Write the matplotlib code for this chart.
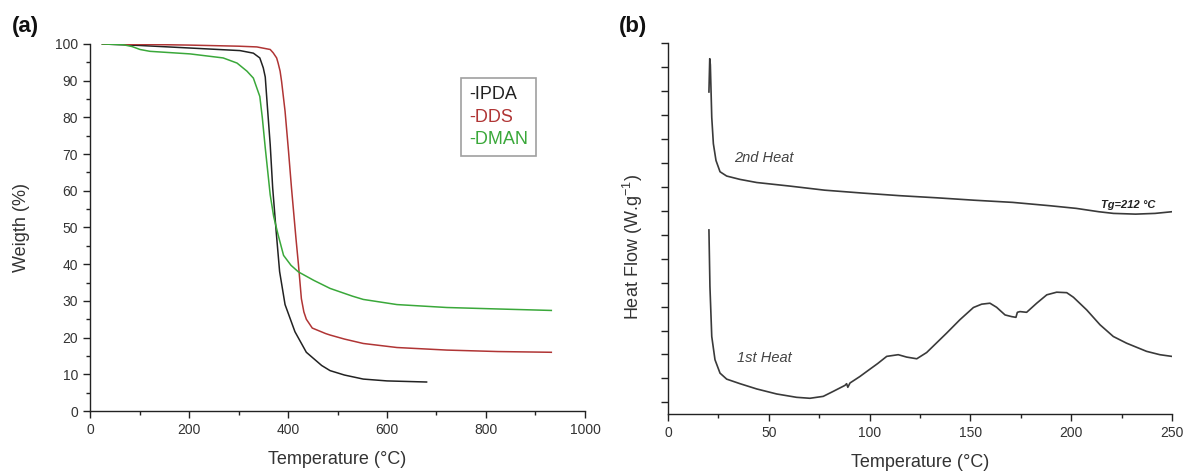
import matplotlib
matplotlib.use("Agg")
import matplotlib.pyplot as plt
from matplotlib.ticker import MultipleLocator, NullFormatter

# ---------------- Panel (a) TGA data ----------------
ipda_T = [25, 100, 202, 303, 330, 343, 350, 354, 358, 364, 369, 376, 383, 394, 414, 437, 468, 485, 514, 552, 600, 680]
ipda_W = [100, 99.6, 98.9, 98.2, 97.5, 96.2, 93.5, 91.0, 83.5, 72.6, 60.8, 49, 38, 29, 21.6, 16, 12.4, 11.0, 9.8, 8.7, 8.2, 7.9]

dds_T = [25, 100, 200, 300, 337, 364, 370, 377, 380, 384, 387, 394, 401, 407, 416, 421, 427, 432, 437, 449, 476, 485, 514, 552, 620, 721, 824, 932]
dds_W = [100, 99.9, 99.7, 99.4, 99.2, 98.5, 97.6, 96.2, 94.8, 92.6, 89.8, 81.7, 70.8, 60.8, 47.1, 40, 30.6, 27, 25.0, 22.6, 21.1, 20.7, 19.6, 18.4, 17.3, 16.6, 16.2, 16.0]

dman_T = [25, 67, 85, 101, 121, 202, 269, 297, 317, 330, 343, 348, 354, 364, 371, 380, 391, 406, 421, 452, 485, 530, 552, 620, 721, 824, 932]
dman_W = [100, 99.8, 99.3, 98.5, 98.0, 97.3, 96.2, 94.8, 92.6, 90.7, 85.7, 80, 71.7, 58.9, 53, 48, 42.4, 39.7, 37.9, 35.6, 33.4, 31.3, 30.4, 29.0, 28.2, 27.8, 27.4]

legend_labels = ["-IPDA", "-DDS", "-DMAN"]

# ---------------- Panel (b) DSC data ----------------
heat2_T = [20.3, 20.7, 21.0, 21.7, 22.5, 23.8, 25.8, 29.1, 35.7, 44, 60.5, 77.7, 96.3, 115, 133.6, 152, 171, 189.5, 202.5, 213.7, 221, 232, 241.6, 250]
heat2_H = [12.96, 14.35, 14.1, 11.9, 10.8, 10.1, 9.63, 9.45, 9.31, 9.18, 9.03, 8.86, 8.74, 8.63, 8.54, 8.44, 8.35, 8.21, 8.10, 7.96, 7.89, 7.86, 7.89, 7.96]

heat1_T = [20.3, 20.8, 21.7, 23.3, 25.8, 29.1, 35.7, 44, 53.9, 63.8, 70.4, 77, 82, 87.8, 88.6, 89.2, 90.3, 95.2, 98.6, 104, 108.5, 114.2, 118.4, 123.4,
           128.3, 138.2, 144.8, 151.5, 155.6, 159.7, 163, 167.2, 170.5, 172.6, 173.3, 174.6, 177.9, 182.9, 187.9, 192.8, 197.8, 201.1,
           207.7, 214.3, 220.9, 227.5, 237.4, 244, 249.9]
heat1_H = [7.2, 4.83, 2.75, 1.78, 1.22, 0.97, 0.78, 0.56, 0.35, 0.21, 0.17, 0.25, 0.46, 0.71, 0.78, 0.63, 0.81, 1.08, 1.29, 1.62, 1.92, 1.99, 1.89, 1.82,
           2.08, 2.89, 3.45, 3.96, 4.10, 4.14, 3.97, 3.65, 3.58, 3.55, 3.76, 3.79, 3.76, 4.14, 4.49, 4.60, 4.58, 4.39,
           3.86, 3.24, 2.75, 2.47, 2.13, 1.99, 1.92]

plt.rcParams['font.family'] = ['Liberation Sans', 'DejaVu Sans']
text_col = '#333333'

fig = plt.figure(figsize=(11.88, 4.74), dpi=100)

def style(ax):
    for s in ['top', 'right']:
        ax.spines[s].set_visible(False)
    for s in ['left', 'bottom']:
        ax.spines[s].set_color('#222222')
        ax.spines[s].set_linewidth(1.0)
    ax.tick_params(which='major', direction='out', length=5, width=1.0, colors='#222222', labelcolor=text_col, labelsize=10)
    ax.tick_params(which='minor', direction='out', length=3, width=1.0, colors='#222222')

# Panel (a)
axa = fig.add_axes([0.0758, 0.1329, 0.4166, 0.7743])
axa.plot(ipda_T, ipda_W, color='#222222', lw=1.1, solid_joinstyle='round')
axa.plot(dds_T, dds_W, color='#b03535', lw=1.1, solid_joinstyle='round')
axa.plot(dman_T, dman_W, color='#3aa83a', lw=1.1, solid_joinstyle='round')
axa.set_xlim(0, 1000)
axa.set_ylim(0, 100)
axa.xaxis.set_major_locator(MultipleLocator(200))
axa.xaxis.set_minor_locator(MultipleLocator(100))
axa.yaxis.set_major_locator(MultipleLocator(10))
axa.yaxis.set_minor_locator(MultipleLocator(5))
style(axa)
axa.set_xlabel('Temperature (°C)', fontsize=13, color=text_col, labelpad=10)
axa.set_ylabel('Weigth (%)', fontsize=13, color=text_col, labelpad=18)
leg_colors = ['#222222', '#b03535', '#3aa83a']
handles = [plt.Line2D([], [], color=c, lw=0) for c in leg_colors]
leg = axa.legend(handles, legend_labels, loc='upper left', bbox_to_anchor=(0.7495, 0.907),
                 borderaxespad=0, handlelength=0, handletextpad=0, fontsize=13, frameon=True,
                 fancybox=False, borderpad=0.45, labelspacing=0.3)
leg.get_frame().set_edgecolor('#888888')
leg.get_frame().set_linewidth(1.2)
for t, c in zip(leg.get_texts(), leg_colors):
    t.set_color(c)
fig.text(0.010, 0.945, '(a)', fontsize=16, fontweight='bold', color='#111111', va='center')

# Panel (b)
axb = fig.add_axes([0.5623, 0.1266, 0.4242, 0.7824])
axb.plot(heat2_T, heat2_H, color='#3a3a3a', lw=1.2, solid_joinstyle='round')
axb.plot(heat1_T, heat1_H, color='#3a3a3a', lw=1.2, solid_joinstyle='round')
axb.set_xlim(0, 250)
axb.set_ylim(-0.486, 15)
axb.xaxis.set_major_locator(MultipleLocator(50))
axb.xaxis.set_minor_locator(MultipleLocator(25))
axb.yaxis.set_major_locator(MultipleLocator(1))
axb.yaxis.set_major_formatter(NullFormatter())
style(axb)
axb.set_xlabel('Temperature (°C)', fontsize=13, color=text_col, labelpad=10)
axb.set_ylabel('Heat Flow (W.g$^{\\mathregular{-1}}$)', fontsize=13, color=text_col)
axb.yaxis.set_label_coords(-0.045, 0.45)
axb.text(33, 10.2, '2nd Heat', fontsize=10.5, style='italic', color='#444444', va='center')
axb.text(34, 1.85, '1st Heat', fontsize=10.5, style='italic', color='#444444', va='center')
axb.text(215, 8.25, 'Tg=212 °C', fontsize=8, style='italic', fontweight='bold', color='#222222', va='center')
fig.text(0.521, 0.945, '(b)', fontsize=16, fontweight='bold', color='#111111', va='center')

fig.savefig('out.png', dpi=100, facecolor='white')
